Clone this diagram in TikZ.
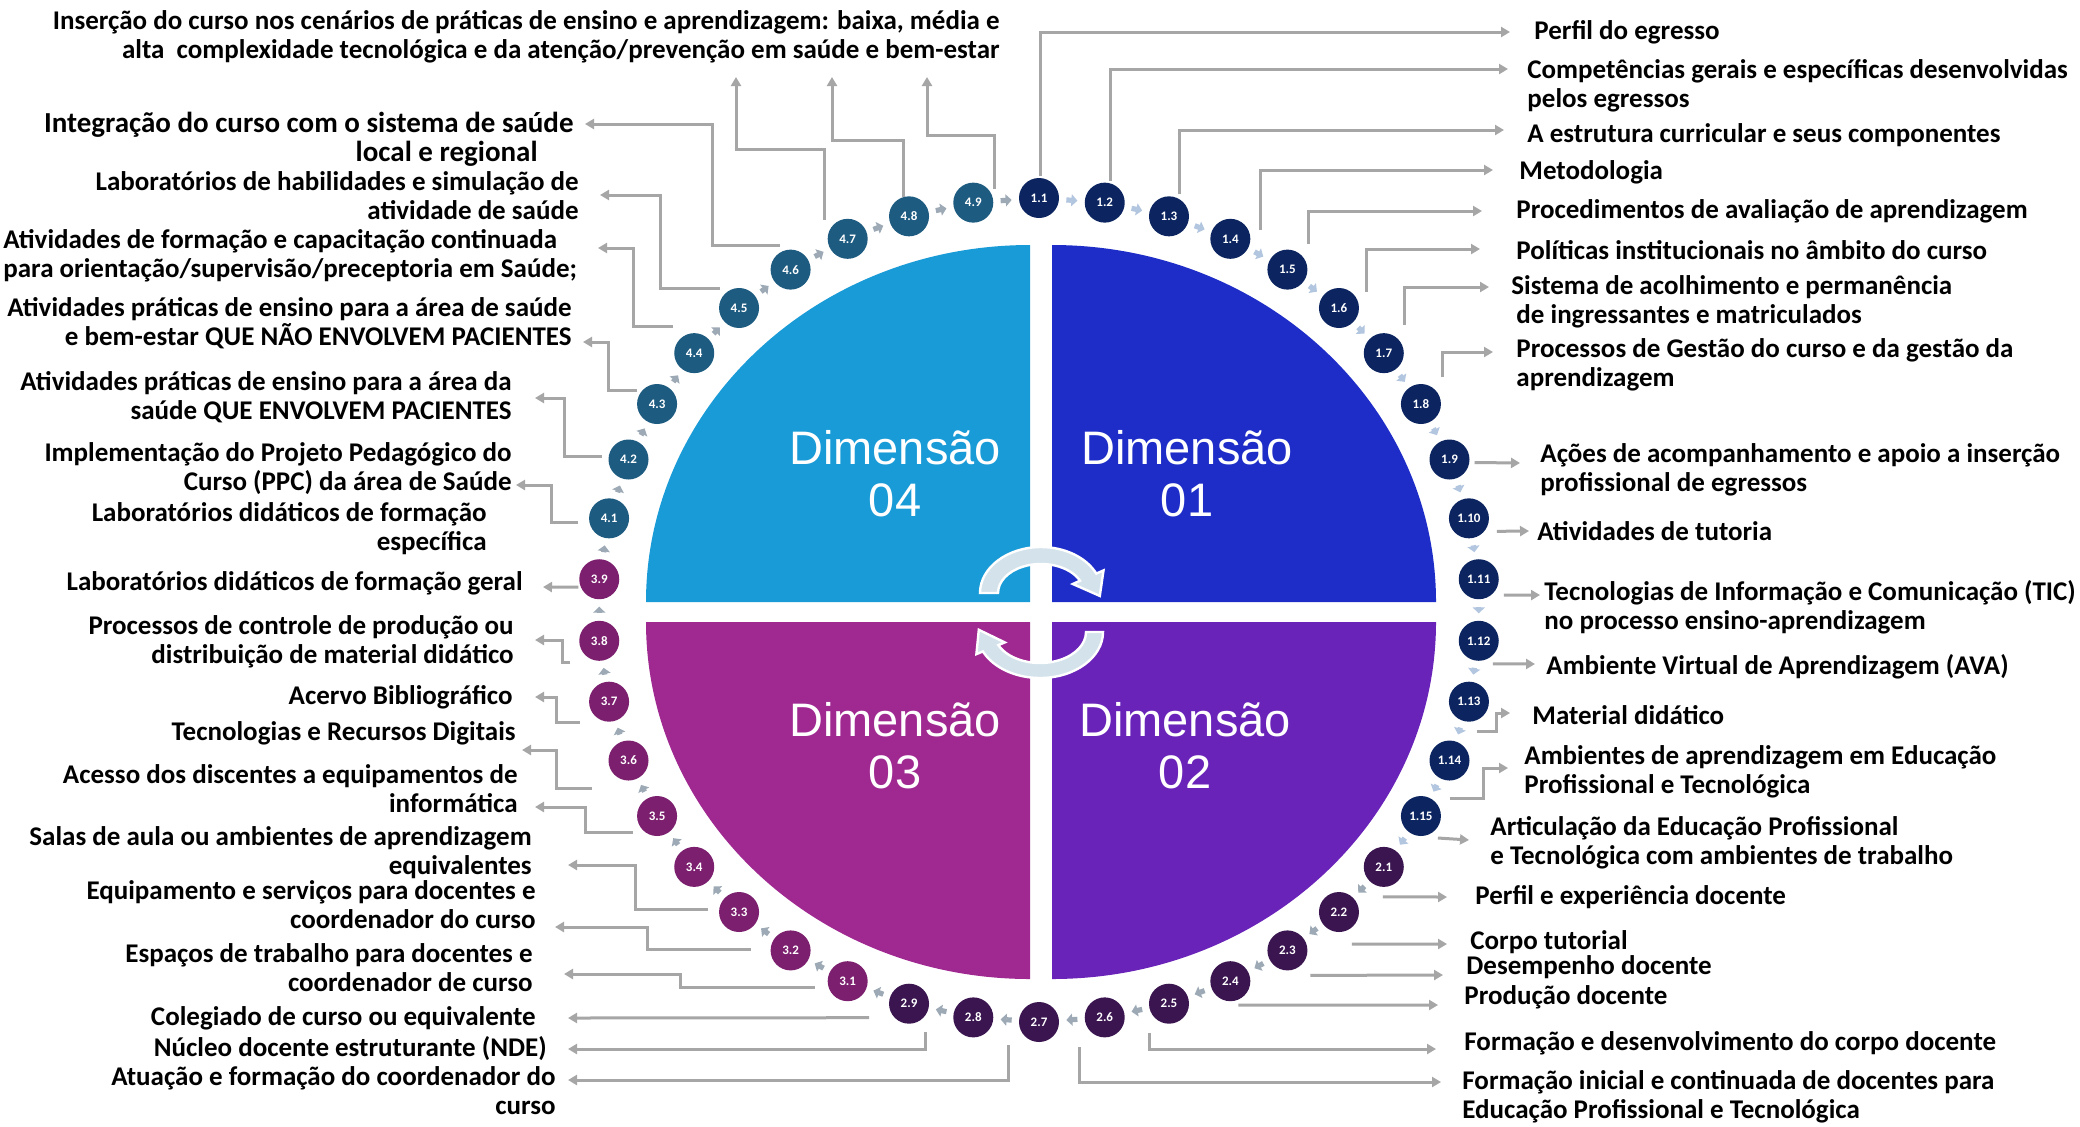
\documentclass[tikz,border=0pt]{standalone}
\usepackage{fontspec}
\setmainfont{Carlito}
\newfontfamily\dimfont{Liberation Sans}
\usetikzlibrary{arrows.meta,calc}

\definecolor{quadA}{HTML}{1E2DC8}
\definecolor{quadB}{HTML}{6923B9}
\definecolor{quadC}{HTML}{A02891}
\definecolor{quadD}{HTML}{199BD7}
\definecolor{bubA}{HTML}{0C2560}
\definecolor{bubB}{HTML}{3A1550}
\definecolor{bubC}{HTML}{7B1F6E}
\definecolor{bubD}{HTML}{1D5B80}
\definecolor{gapA}{HTML}{B3C6E0}
\definecolor{gapB}{HTML}{9DAAB6}
\definecolor{lineg}{HTML}{A6A6A6}
\definecolor{turn}{HTML}{D4E2EB}

\newcommand{\lblfont}{\fontsize{13.5}{14.5}\selectfont\bfseries}
\newcommand{\bubfont}{\fontsize{6.5}{7}\selectfont\bfseries}
\newcommand{\dimtxt}{\dimfont\fontsize{23.5}{26}\selectfont}

\begin{document}
\begin{tikzpicture}[x=0.5pt, y=-0.5pt, >={Triangle[length=4.5pt,width=5pt]}]

    \tikzstyle{bub} = [circle, minimum size=20pt, inner sep=0pt, text=white, font=\bubfont]
    \tikzstyle{gap} = [-{Triangle[length=3pt,width=6pt]}, line width=2.6pt, shorten <=3.5pt, shorten >=3.5pt]
    \tikzstyle{conn} = [->, draw=lineg, line width=1.5pt]
    \tikzstyle{lblR} = [anchor=west, align=left, inner sep=0pt, font=\lblfont]
    \tikzstyle{lblL} = [anchor=east, align=right, inner sep=0pt, font=\lblfont]
    \tikzstyle{dimlbl} = [align=center, text=white, font=\dimtxt]

    \clip (0,0) rectangle (2080,1126);
    \fill[white] (0,0) rectangle (2080,1126);

    % the four quarters
    \fill[quadD] (1030,602) -- (646,602) arc[start angle=180, end angle=270, x radius=384, y radius=357] -- cycle;
    \fill[quadA] (1052,602) -- (1052,245) arc[start angle=270, end angle=360, x radius=384, y radius=357] -- cycle;
    \fill[quadB] (1052,622) -- (1436,622) arc[start angle=0, end angle=90, x radius=384, y radius=357] -- cycle;
    \fill[quadC] (1030,622) -- (1030,979) arc[start angle=90, end angle=180, x radius=384, y radius=357] -- cycle;

    \node (dim4) [dimlbl] at (895,474)  {Dimensão\\04};
    \node (dim1) [dimlbl] at (1187,474) {Dimensão\\01};
    \node (dim3) [dimlbl] at (895,746)  {Dimensão\\03};
    \node (dim2) [dimlbl] at (1185,746) {Dimensão\\02};

    % turning arrows in the middle
    \filldraw[fill=turn, draw=white, line width=1.2pt] (980,593) arc[start angle=180, end angle=335, x radius=61, y radius=46]
        -- (1103.5,570.4) -- (1099.8,595.9) -- (1072.8,584.0) -- (1080.0,580.7)
        arc[start angle=335, end angle=180, x radius=43, y radius=29] -- cycle;
    \filldraw[fill=turn, draw=white, line width=1.2pt] (1103,632) arc[start angle=0, end angle=155, x radius=63, y radius=46]
        -- (976.4,654.1) -- (978.8,629.8) -- (1004.8,642.4) -- (998.3,645.1)
        arc[start angle=155, end angle=0, x radius=46, y radius=31] -- cycle;

    % ring of indicators
    \foreach \lab [count=\k from 0] in {1.1,1.2,1.3,1.4,1.5,1.6,1.7,1.8,1.9,1.10,1.11,1.12,1.13,1.14,1.15,
        2.1,2.2,2.3,2.4,2.5,2.6,2.7,2.8,2.9,3.1,3.2,3.3,3.4,3.5,3.6,3.7,3.8,3.9,
        4.1,4.2,4.3,4.4,4.5,4.6,4.7,4.8,4.9} {
        \pgfmathsetmacro\ang{-90+\k*360/42}
        \ifnum\k<15 \def\bc{bubA}\else\ifnum\k<24 \def\bc{bubB}\else\ifnum\k<33 \def\bc{bubC}\else\def\bc{bubD}\fi\fi\fi
        \node (b\k) [bub, fill=\bc] at ({1039+441*cos(\ang)},{610+412*sin(\ang)}) {\lab};
    }
    \foreach \k in {0,...,41} {
        \pgfmathtruncatemacro\nx{mod(\k+1,42)}
        \ifnum\k<15 \def\gc{gapA}\else\def\gc{gapB}\fi
        \draw[gap, draw=\gc] (b\k) -- (b\nx);
    }

    % labels, right side
    \node (perfil)    [lblR] at (1534,32)   {Perfil do egresso};
    \node (compet)    [lblR] at (1527,86)   {Competências gerais e específicas desenvolvidas\\pelos egressos};
    \node (estrut)    [lblR] at (1527,135)  {A estrutura curricular e seus componentes};
    \node (metod)     [lblR] at (1519,172)  {Metodologia};
    \node (proced)    [lblR] at (1516,211)  {Procedimentos de avaliação de aprendizagem};
    \node (polit)     [lblR] at (1516,250)  {Políticas institucionais no âmbito do curso};
    \node (acolh)     [lblR] at (1511,302)  {Sistema de acolhimento e permanência\\\hspace*{2.5pt}de ingressantes e matriculados};
    \node (gestao)    [lblR] at (1516,365)  {Processos de Gestão do curso e da gestão da\\aprendizagem};
    \node (acoes)     [lblR] at (1540,470)  {Ações de acompanhamento e apoio a inserção\\profissional de egressos};
    \node (tutoria)   [lblR] at (1537,531)  {Atividades de tutoria};
    \node (tic)       [lblR] at (1544,607)  {Tecnologias de Informação e Comunicação (TIC)\\no processo ensino-aprendizagem};
    \node (ava)       [lblR] at (1546,667)  {Ambiente Virtual de Aprendizagem (AVA)};
    \node (material)  [lblR] at (1532,715)  {Material didático};
    \node (ambientes) [lblR] at (1524,772)  {Ambientes de aprendizagem em Educação\\Profissional e Tecnológica};
    \node (articul)   [lblR] at (1490,843)  {Articulação da Educação Profissional\\e Tecnológica com ambientes de trabalho};
    \node (perfildoc) [lblR] at (1475,897)  {Perfil e experiência docente};
    \node (tutorial)  [lblR] at (1470,942)  {Corpo tutorial};
    \node (desemp)    [lblR] at (1466,967)  {Desempenho docente};
    \node (producao)  [lblR] at (1464,997)  {Produção docente};
    \node (formdes)   [lblR] at (1464,1043) {Formação e desenvolvimento do corpo docente};
    \node (forminic)  [lblR] at (1462,1097) {Formação inicial e continuada de docentes para\\Educação Profissional e Tecnológica};

    % labels, left side
    \node (insercao)  [lblL] at (1000,37)   {Inserção do curso nos cenários de práticas de ensino e aprendizagem: baixa, média e\\alta\ \ complexidade tecnológica e da atenção/prevenção em saúde e bem-estar};
    \node (integr)    [lblL, font=\fontsize{14.5}{14.5}\selectfont\bfseries] at (574,139) {Integração do curso com o sistema de saúde\\local e regional\kern18pt};
    \node (labhab)    [lblL] at (579,196)   {Laboratórios de habilidades e simulação de\\atividade de saúde};
    \node (capacit)   [lblR] at (3,256)     {Atividades de formação e capacitação continuada\\para orientação/supervisão/preceptoria em Saúde;};
    \node (sempac)    [lblL] at (572,323)   {Atividades práticas de ensino para a área de saúde\\e bem-estar QUE NÃO ENVOLVEM PACIENTES};
    \node (compac)    [lblL] at (512,397)   {Atividades práticas de ensino para a área da\\saúde QUE ENVOLVEM PACIENTES};
    \node (ppc)       [lblL] at (512,469)   {Implementação do Projeto Pedagógico do\\Curso (PPC) da área de Saúde};
    \node (labesp)    [lblL] at (487,529)   {Laboratórios didáticos de formação\\específica};
    \node (labgeral)  [lblL] at (523,583)   {Laboratórios didáticos de formação geral};
    \node (controle)  [lblL] at (514,642)   {Processos de controle de produção ou\\distribuição de material didático};
    \node (acervo)    [lblL] at (513,697)   {Acervo Bibliográfico};
    \node (tecno)     [lblL] at (516,733)   {Tecnologias e Recursos Digitais};
    \node (acesso)    [lblL] at (518,789)   {Acesso dos discentes a equipamentos de\\informática};
    \node (salas)     [lblL] at (532,853)   {Salas de aula ou ambientes de aprendizagem\\equivalentes};
    \node (equip)     [lblL] at (536,905)   {Equipamento e serviços para docentes e\\coordenador do curso};
    \node (espacos)   [lblL] at (533,968)   {Espaços de trabalho para docentes e\\coordenador de curso};
    \node (colegiado) [lblL] at (536,1018)  {Colegiado de curso ou equivalente};
    \node (nde)       [lblL] at (547,1049)  {Núcleo docente estruturante (NDE)};
    \node (atuacao)   [lblL] at (556,1091)  {Atuação e formação do coordenador do\\curso};

    % arrow ends beside the labels
    \coordinate (to-perfil)    at (1510,32);
    \coordinate (to-compet)    at (1508,69);
    \coordinate (to-estrut)    at (1504,130);
    \coordinate (to-metod)     at (1493,170);
    \coordinate (to-proced)    at (1482,211);
    \coordinate (to-polit)     at (1480,249);
    \coordinate (to-acolh)     at (1489,287);
    \coordinate (to-gestao)    at (1493,352);
    \coordinate (to-acoes)     at (1520,463);
    \coordinate (to-tutoria)   at (1529,531);
    \coordinate (to-tic)       at (1540,595);
    \coordinate (to-ava)       at (1535,664);
    \coordinate (to-material)  at (1510,713);
    \coordinate (to-ambientes) at (1508,768);
    \coordinate (to-articul)   at (1469,840);
    \coordinate (to-perfildoc) at (1447,897);
    \coordinate (to-tutorial)  at (1447,944);
    \coordinate (to-desemp)    at (1443,975);
    \coordinate (to-producao)  at (1438,1005);
    \coordinate (to-formdes)   at (1436,1049);
    \coordinate (to-forminic)  at (1441,1082);
    \coordinate (to-atuacao)   at (568,1080);
    \coordinate (to-nde)       at (568,1049);
    \coordinate (to-colegiado) at (568,1018);
    \coordinate (to-espacos)   at (564,974);
    \coordinate (to-equip)     at (555,927);
    \coordinate (to-salas)     at (568,865);
    \coordinate (to-acesso)    at (535,807);
    \coordinate (to-tecno)     at (522,750);
    \coordinate (to-acervo)    at (535,697);
    \coordinate (to-controle)  at (535,640);
    \coordinate (to-labgeral)  at (543,587);
    \coordinate (to-ppc)       at (516,485);
    \coordinate (to-compac)    at (535,398);
    \coordinate (to-sempac)    at (583,342);
    \coordinate (to-capacit)   at (598,248);
    \coordinate (to-labhab)    at (600,195);
    \coordinate (to-integr)    at (585,124);
    \coordinate (to-ins1)      at (736,77);
    \coordinate (to-ins2)      at (832,77);
    \coordinate (to-ins3)      at (927,77);

    % dimension 01
    \draw[conn] ($(b0)+(1,-22)$)   |- (to-perfil);
    \draw[conn] ($(b1)+(6,-22)$)   |- (to-compet);
    \draw[conn] ($(b2)+(10,-22)$)  |- (to-estrut);
    \draw[conn] ($(b3)+(30,-9)$)   |- (to-metod);
    \draw[conn] ($(b4)+(21,-26)$)  |- (to-proced);
    \draw[conn] ($(b5)+(28,-16)$)  |- (to-polit);
    \draw[conn] ($(b6)+(21,-28)$)  |- (to-acolh);
    \draw[conn] ($(b7)+(22,-27)$)  |- (to-gestao);
    \draw[conn] ($(b8)+(25,3)$)    -- (to-acoes);
    \draw[conn] ($(b9)+(28,13)$)   -- (to-tutoria);
    \draw[conn] ($(b10)+(25,16)$)  -- (to-tic);
    \draw[conn] ($(b11)+(14,23)$)  -- (to-ava);
    \draw[conn] ($(b12)+(8,30)$)   -- ++(20,0) |- (to-material);
    \draw[conn] ($(b13)+(0,38)$)   -- ++(34,0) |- (to-ambientes);
    \draw[conn] ($(b14)+(17,22)$)  -- (to-articul);

    % dimension 02
    \draw[conn] ($(b15)+(-1,30)$)  -- (to-perfildoc);
    \draw[conn] ($(b16)+(13,32)$)  -- (to-tutorial);
    \draw[conn] ($(b17)+(23,25)$)  -- (to-desemp);
    \draw[conn] ($(b18)+(8,24)$)   -- (to-producao);
    \draw[conn] ($(b19)+(-19,29)$) |- (to-formdes);
    \draw[conn] ($(b20)+(-25,30)$) |- (to-forminic);
    \draw[conn] ($(b21)+(-31,23)$) |- (to-atuacao);
    \draw[conn] ($(b22)+(-48,15)$) |- (to-nde);
    \draw[conn] ($(b23)+(-40,14)$) -- (to-colegiado);

    % dimension 03
    \draw[conn] ($(b24)+(-33,6)$)  -- ++(-134,0) |- (to-espacos);
    \draw[conn] ($(b25)+(-40,-1)$) -- ++(-103,0) |- (to-equip);
    \draw[conn] ($(b26)+(-31,-3)$) -- ++(-73,0) |- (to-salas);
    \draw[conn] ($(b28)+(-24,16)$) -- ++(-48,0) |- (to-acesso);
    \draw[conn] ($(b29)+(-37,28)$) -- ++(-35,0) |- (to-tecno);
    \draw[conn] ($(b30)+(-29,21)$) -- ++(-24,0) |- (to-acervo);
    \draw[conn] ($(b31)+(-29,22)$) -- ++(-8,0) |- (to-controle);
    \draw[conn] ($(b32)+(-21,8)$)  -- (to-labgeral);

    % dimension 04
    \draw[conn] ($(b33)+(-31,4)$)   -- ++(-27,0) |- (to-ppc);
    \draw[conn] ($(b34)+(-27,-3)$)  -- ++(-37,0) |- (to-compac);
    \draw[conn] ($(b35)+(-20,-14)$) -- ++(-29,0) |- (to-sempac);
    \draw[conn] ($(b36)+(-21,-27)$) -- ++(-40,0) |- (to-capacit);
    \draw[conn] ($(b37)+(-19,-20)$) -- ++(-60,0) |- (to-labhab);
    \draw[conn] ($(b38)+(-11,-24)$) -- ++(-67,0) |- (to-integr);
    \draw[conn] ($(b39)+(-23,-19)$) -- ++(0,-70) -| (to-ins1);
    \draw[conn] ($(b40)+(-6,-19)$)  -- ++(0,-57) -| (to-ins2);
    \draw[conn] ($(b41)+(21,-14)$)  -- ++(0,-53) -| (to-ins3);
\end{tikzpicture}
\end{document}
